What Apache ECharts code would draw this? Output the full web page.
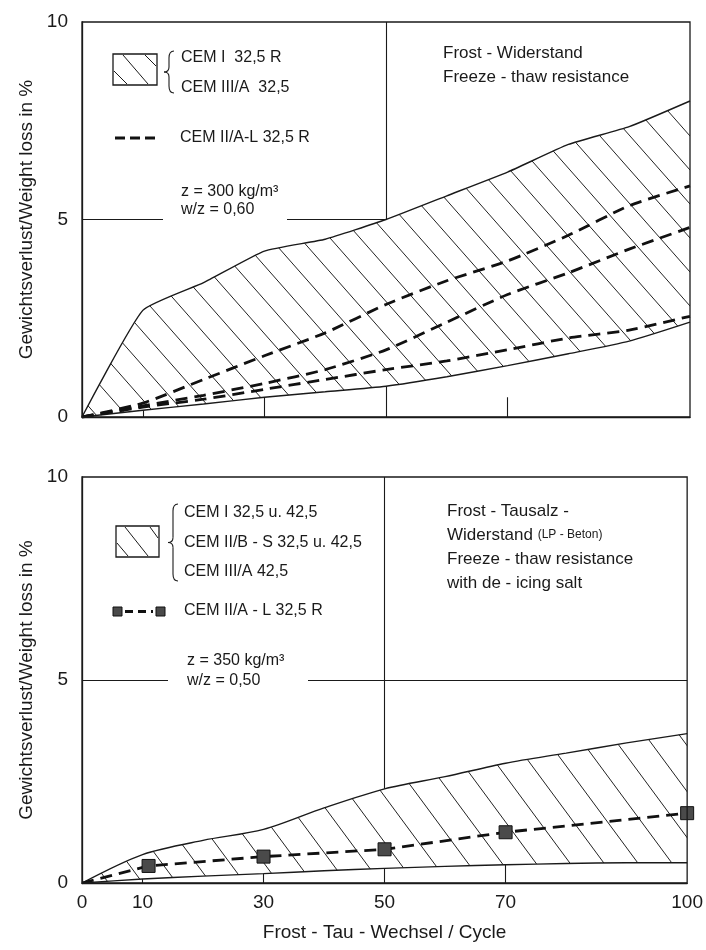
<!DOCTYPE html>
<html>
<head>
<meta charset="utf-8">
<script src="https://cdn.jsdelivr.net/npm/echarts@6/dist/echarts.min.js"></script>
<style>
  html, body { margin: 0; padding: 0; background: #fff; }
  #chart { width: 706px; height: 950px; }
</style>
</head>
<body>
<div id="chart"></div>
<script>
// Zyklen (x) und Messwerte (%)
var cycles = [0, 10, 20, 30, 40, 50, 60, 70, 80, 90, 100];

// oben: Frost-Widerstand
var topUpper = [0, 2.7, 3.4, 4.2, 4.5, 5.0, 5.6, 6.2, 6.9, 7.35, 8.0];
var topLower = [0, 0.17, 0.33, 0.5, 0.64, 0.78, 1.02, 1.3, 1.6, 1.92, 2.4];
var topDash1 = [0, 0.35, 0.95, 1.55, 2.13, 2.85, 3.45, 3.95, 4.6, 5.35, 5.85];
var topDash2 = [0, 0.28, 0.55, 0.85, 1.2, 1.7, 2.4, 3.1, 3.65, 4.25, 4.8];
var topDash3 = [0, 0.25, 0.45, 0.7, 0.95, 1.2, 1.42, 1.7, 2.0, 2.2, 2.55];

// unten: Frost-Tausalz-Widerstand
var botUpper = [0, 0.7, 1.05, 1.32, 1.85, 2.32, 2.62, 2.95, 3.2, 3.45, 3.68];
var botLower = [0, 0.1, 0.17, 0.23, 0.3, 0.36, 0.41, 0.45, 0.48, 0.5, 0.5];
var markCycles = [0, 11, 30, 50, 70, 100];
var markValues = [0, 0.42, 0.65, 0.83, 1.25, 1.72];

var xLabels = [0, 10, 30, 50, 70, 100];
var xTicks = [10, 30, 50, 70];

var FONT = 'sans-serif';
var INK = '#1a1a1a';

function pairs(xs, ys) {
    return xs.map(function (x, i) { return [x, ys[i]]; });
}
// Schraffur-Kachel
function hatch(w, h) {
    var c = document.createElement('canvas');
    c.width = w; c.height = h;
    var g = c.getContext('2d');
    g.fillStyle = '#fff';
    g.fillRect(0, 0, w, h);
    g.strokeStyle = '#222';
    g.lineWidth = 1;
    g.beginPath();
    g.moveTo(0, 0); g.lineTo(w, h);
    g.moveTo(-w, 0); g.lineTo(0, h);
    g.moveTo(w, 0); g.lineTo(2 * w, h);
    g.stroke();
    return c;
}
var hatchTop = { image: hatch(30, 34), repeat: 'repeat' };
var hatchBot = { image: hatch(34, 46), repeat: 'repeat' };

function txt(x, y, s, size) {
    return {
        type: 'text', x: x, y: y, z: 10,
        style: { text: s, fill: INK, font: (size || 16) + 'px ' + FONT, verticalAlign: 'middle' }
    };
}
function seg(x1, y1, x2, y2, w) {
    return { type: 'line', z: 10, shape: { x1: x1, y1: y1, x2: x2, y2: y2 }, style: { stroke: INK, lineWidth: w || 1 } };
}
function brace(cx, y0, y1) {
    var ym = (y0 + y1) / 2;
    var st = { stroke: INK, lineWidth: 1.1, fill: null };
    return [
        { type: 'bezierCurve', z: 10, shape: { x1: cx + 5, y1: y0, x2: cx, y2: y0 + 7, cpx1: cx, cpy1: y0 }, style: st },
        { type: 'line', z: 10, shape: { x1: cx, y1: y0 + 7, x2: cx, y2: ym - 5 }, style: st },
        { type: 'bezierCurve', z: 10, shape: { x1: cx, y1: ym - 5, x2: cx - 5, y2: ym, cpx1: cx, cpy1: ym }, style: st },
        { type: 'bezierCurve', z: 10, shape: { x1: cx - 5, y1: ym, x2: cx, y2: ym + 5, cpx1: cx, cpy1: ym }, style: st },
        { type: 'line', z: 10, shape: { x1: cx, y1: ym + 5, x2: cx, y2: y1 - 7 }, style: st },
        { type: 'bezierCurve', z: 10, shape: { x1: cx, y1: y1 - 7, x2: cx + 5, y2: y1, cpx1: cx, cpy1: y1 }, style: st }
    ];
}

var myChart = echarts.init(document.getElementById('chart'), null, { renderer: 'canvas' });

function xAxisOf(idx, withLabels) {
    return {
        type: 'value', gridIndex: idx, min: 0, max: 100, z: 6,
        axisLine: { lineStyle: { color: INK, width: 1.3 } },
        axisTick: { show: false },
        axisLabel: { show: withLabels, customValues: xLabels, margin: 10, fontSize: 19, color: INK, fontFamily: FONT },
        splitLine: { show: false },
        name: withLabels ? 'Frost - Tau - Wechsel / Cycle' : '',
        nameLocation: 'middle', nameGap: 40,
        nameTextStyle: { fontSize: 19, color: INK, fontFamily: FONT }
    };
}
function yAxisOf(idx) {
    return {
        type: 'value', gridIndex: idx, min: 0, max: 10, interval: 5, z: 6,
        axisLine: { show: true, lineStyle: { color: INK, width: 1.3 } },
        axisTick: { show: false },
        axisLabel: { fontSize: 19, color: INK, fontFamily: FONT, margin: 14 },
        splitLine: { show: false },
        name: 'Gewichtsverlust/Weight loss in %',
        nameLocation: 'middle', nameGap: 44,
        nameTextStyle: { fontSize: 19, color: INK, fontFamily: FONT }
    };
}
// Gitterlinien hinter dem Band
function gridLines(idx) {
    return {
        type: 'line', xAxisIndex: idx, yAxisIndex: idx, z: 1,
        data: [], silent: true,
        markLine: {
            z: 1, silent: true, symbol: 'none', animation: false,
            label: { show: false },
            lineStyle: { color: INK, width: 1.1, type: 'solid' },
            data: [{ xAxis: 50 }, { yAxis: 5 }]
        }
    };
}
// Striche unterhalb des Bandes (Ticks und 50er-Linie)
function lowTicks(idx, lower) {
    return {
        type: 'line', xAxisIndex: idx, yAxisIndex: idx, z: 4,
        data: [], silent: true,
        markLine: {
            z: 4, silent: true, symbol: 'none', animation: false,
            label: { show: false },
            lineStyle: { color: INK, width: 1.1, type: 'solid' },
            data: xTicks.map(function (x) {
                var v = lower[cycles.indexOf(x)];
                var top = x === 50 ? v : Math.min(v, 0.5);
                return [{ coord: [x, 0] }, { coord: [x, top] }];
            })
        }
    };
}
function bandUpper(idx, ys, pattern, sm) {
    return {
        type: 'line', xAxisIndex: idx, yAxisIndex: idx, z: 2,
        data: pairs(cycles, ys), showSymbol: false, smooth: sm,
        lineStyle: { color: INK, width: 1.4 },
        areaStyle: { color: pattern, opacity: 1, origin: 'start' }
    };
}
function bandLower(idx, ys, sm) {
    return {
        type: 'line', xAxisIndex: idx, yAxisIndex: idx, z: 3,
        data: pairs(cycles, ys), showSymbol: false, smooth: sm,
        lineStyle: { color: INK, width: 1.4 },
        areaStyle: { color: '#fff', opacity: 1, origin: 'start' }
    };
}
function dashed(idx, ys) {
    return {
        type: 'line', xAxisIndex: idx, yAxisIndex: idx, z: 5,
        data: pairs(cycles, ys), showSymbol: false, smooth: 0.2,
        lineStyle: { color: '#111', width: 2.8, type: [12, 7] }
    };
}

var option = {
    animation: false,
    textStyle: { fontFamily: FONT },
    grid: [
        { left: 82, right: 16, top: 22, height: 395, z: 6, show: true, borderColor: INK, borderWidth: 1.3, backgroundColor: 'transparent' },
        { left: 82, right: 16, top: 477, height: 406, z: 6, show: true, borderColor: INK, borderWidth: 1.3, backgroundColor: 'transparent' }
    ],
    xAxis: [xAxisOf(0, false), xAxisOf(1, true)],
    yAxis: [yAxisOf(0), yAxisOf(1)],
    series: [
        gridLines(0),
        bandUpper(0, topUpper, hatchTop, 0.15),
        bandLower(0, topLower, 0.2),
        lowTicks(0, topLower),
        dashed(0, topDash1),
        dashed(0, topDash2),
        dashed(0, topDash3),

        gridLines(1),
        bandUpper(1, botUpper, hatchBot, 0.3),
        bandLower(1, botLower, 0.2),
        lowTicks(1, botLower),
        {
            type: 'line', xAxisIndex: 1, yAxisIndex: 1, z: 5,
            data: pairs(markCycles, markValues).map(function (p, i) {
                return i === 0 ? { value: p, symbol: 'none' } : p;
            }),
            symbol: 'rect', symbolSize: 13, showAllSymbol: true,
            itemStyle: { color: '#4a4a4a', borderColor: '#111', borderWidth: 1 },
            lineStyle: { color: '#111', width: 2.8, type: [12, 7] }
        }
    ],
    graphic: [].concat(
        // Lücken in der 5-%-Linie
        [
            { type: 'rect', z: 9, shape: { x: 163, y: 212, width: 124, height: 14 }, style: { fill: '#fff' } },
            { type: 'rect', z: 9, shape: { x: 168, y: 675, width: 140, height: 14 }, style: { fill: '#fff' } }
        ],
        // oben: Legende
        [
            { type: 'rect', z: 10, shape: { x: 113, y: 54, width: 44, height: 31 }, style: { fill: '#fff', stroke: INK, lineWidth: 1.3 } },
            seg(123, 55, 148, 84), seg(145, 55, 156, 66), seg(114, 71, 127, 84),
            { type: 'line', z: 10, shape: { x1: 115, y1: 138, x2: 157, y2: 138 }, style: { stroke: '#111', lineWidth: 3, lineDash: [10, 5] } }
        ],
        brace(169, 51, 93),
        [
            txt(181, 58, 'CEM I  32,5 R'),
            txt(181, 88, 'CEM III/A  32,5'),
            txt(180, 138, 'CEM II/A-L 32,5 R'),
            txt(181, 192, 'z = 300 kg/m³'),
            txt(181, 210, 'w/z = 0,60'),
            txt(443, 53, 'Frost - Widerstand', 17),
            txt(443, 77, 'Freeze - thaw resistance', 17)
        ],
        // unten: Legende
        [
            { type: 'rect', z: 10, shape: { x: 116, y: 526, width: 43, height: 31 }, style: { fill: '#fff', stroke: INK, lineWidth: 1.3 } },
            seg(125, 527, 148, 556), seg(150, 527, 158, 538), seg(117, 543, 128, 556),
            { type: 'rect', z: 10, shape: { x: 113, y: 607, width: 9, height: 9 }, style: { fill: '#4a4a4a', stroke: '#111', lineWidth: 1 } },
            { type: 'rect', z: 10, shape: { x: 156, y: 607, width: 9, height: 9 }, style: { fill: '#4a4a4a', stroke: '#111', lineWidth: 1 } },
            { type: 'line', z: 10, shape: { x1: 125, y1: 611.5, x2: 153, y2: 611.5 }, style: { stroke: '#111', lineWidth: 3, lineDash: [8, 5] } }
        ],
        brace(173, 504, 581),
        [
            txt(184, 513, 'CEM I 32,5 u. 42,5'),
            txt(184, 543, 'CEM II/B - S 32,5 u. 42,5'),
            txt(184, 572, 'CEM III/A 42,5'),
            txt(184, 611, 'CEM II/A - L 32,5 R'),
            txt(187, 661, 'z = 350 kg/m³'),
            txt(187, 681, 'w/z = 0,50'),
            txt(447, 511, 'Frost - Tausalz -', 17),
            {
                type: 'text', x: 447, y: 535, z: 10,
                style: {
                    text: '{a|Widerstand }{b|(LP - Beton)}', verticalAlign: 'middle',
                    rich: {
                        a: { fontSize: 17, fontFamily: FONT, fill: INK },
                        b: { fontSize: 12, fontFamily: FONT, fill: INK }
                    }
                }
            },
            txt(447, 559, 'Freeze - thaw resistance', 17),
            txt(447, 583, 'with de - icing salt', 17)
        ]
    )
};

myChart.setOption(option);
</script>
</body>
</html>
